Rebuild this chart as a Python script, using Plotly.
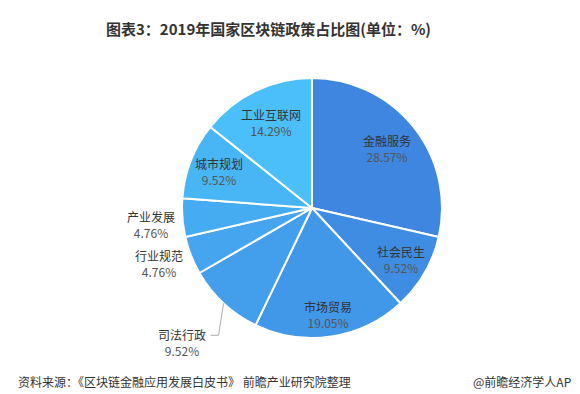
import math
import plotly.graph_objects as go

# ---- data ----
categories = ["金融服务", "社会民生", "市场贸易", "司法行政", "行业规范", "产业发展", "城市规划", "工业互联网"]
values = [28.57, 9.52, 19.05, 9.52, 4.76, 4.76, 9.52, 14.29]
title_text = "图表3：2019年国家区块链政策占比图(单位：%)"
source_text = "资料来源：《区块链金融应用发展白皮书》 前瞻产业研究院整理"
brand_text = "@前瞻经济学人APP"

# ---- style ----
colors = ["#3f86e0", "#3f8de3", "#4197e8", "#439fec", "#45a6ef", "#46acf1", "#48b5f5", "#4bbff9"]
label_mode = ["in", "in", "in", "leader", "out", "out", "in", "in"]
label_rfrac = [0.74, 0.79, 0.83, 1.0, 1.05, 1.04, 0.77, 0.73]

W, H = 580, 394
CX, CY, R = 304, 200, 130  # pie geometry in pixels

fig = go.Figure()
fig.add_trace(go.Pie(
    labels=categories, values=values, sort=False, direction="clockwise", rotation=0,
    marker=dict(colors=colors, line=dict(color="white", width=2)),
    textinfo="none", hoverinfo="label+percent", showlegend=False,
    domain=dict(x=[(CX - R) / W, (CX + R) / W], y=[1 - (CY + R) / H, 1 - (CY - R) / H]),
))

def px2paper(x, y):
    return x / W, 1 - y / H

annotations = []
shapes = []
total = sum(values)
cum = 0.0
for cat, v, mode, rf in zip(categories, values, label_mode, label_rfrac):
    mid = (cum + v / 2) / total * 2 * math.pi
    cum += v
    sx, sy = math.sin(mid), -math.cos(mid)
    txt = f"{cat}<br><span style='color:#555'>{v:.2f}%</span>"
    if mode == "in":
        x, y = CX + sx * R * rf, CY + sy * R * rf
        px, py = px2paper(x, y)
        annotations.append(dict(x=px, y=py, xref="paper", yref="paper", text=txt, showarrow=False,
                                xanchor="center", yanchor="middle", align="center"))
    elif mode == "out":
        x, y = CX + sx * R * rf, CY + sy * R * rf + 6
        px, py = px2paper(x, y)
        annotations.append(dict(x=px, y=py, xref="paper", yref="paper", text=txt, showarrow=False,
                                xanchor="right", yanchor="middle", align="center"))
    else:
        x0, y0 = CX + sx * R, CY + sy * R
        x1, y1 = x0 - 5, y0 + 32
        x2 = x1 - 8
        for (a, b, c, d) in [(x0, y0, x1, y1), (x1, y1, x2, y1)]:
            pa, pb = px2paper(a, b)
            pc, pd = px2paper(c, d)
            shapes.append(dict(type="line", xref="paper", yref="paper", x0=pa, y0=pb, x1=pc, y1=pd,
                               line=dict(color="#aaaaaa", width=1)))
        px, py = px2paper(x2 - 3, y1 + 7)
        annotations.append(dict(x=px, y=py, xref="paper", yref="paper", text=txt, showarrow=False,
                                xanchor="right", yanchor="middle", align="center"))

# title and footer
annotations.append(dict(x=260 / W, y=1 - 20 / H, xref="paper", yref="paper", text=f"<b>{title_text}</b>",
                        showarrow=False, xanchor="center", yanchor="middle",
                        font=dict(size=15, color="#333333")))
annotations.append(dict(x=8 / W, y=1 - 373 / H, xref="paper", yref="paper", text=source_text,
                        showarrow=False, xanchor="left", yanchor="middle",
                        font=dict(size=12, color="#333333")))
annotations.append(dict(x=573 / W, y=1 - 373 / H, xref="paper", yref="paper", text=brand_text,
                        showarrow=False, xanchor="right", yanchor="middle",
                        font=dict(size=12, color="#333333")))

fig.update_layout(
    width=W, height=H, margin=dict(l=0, r=0, t=0, b=0),
    paper_bgcolor="white", plot_bgcolor="white",
    font=dict(family="Noto Sans CJK SC, Noto Sans, sans-serif", size=12, color="#333333"),
    annotations=annotations, shapes=shapes,
)

fig.write_html("out.html")
